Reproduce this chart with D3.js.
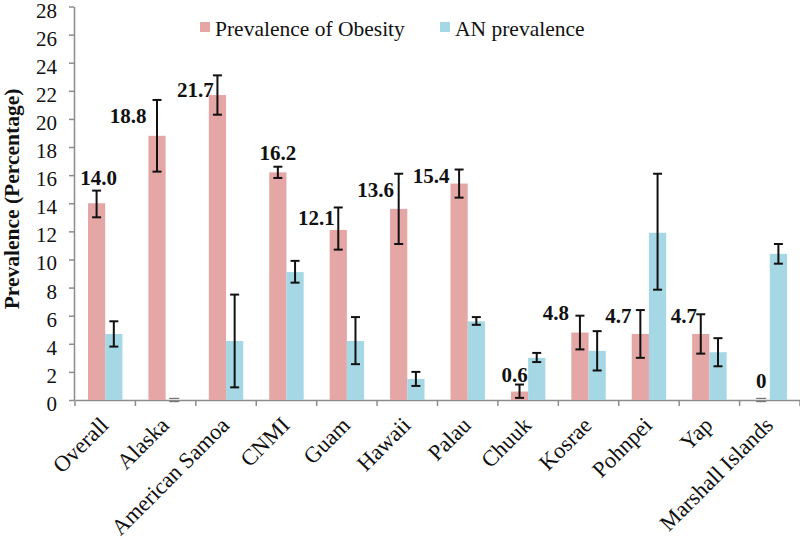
<!DOCTYPE html>
<html><head><meta charset="utf-8">
<script src="https://cdn.jsdelivr.net/npm/d3@7"></script>
<style>body{margin:0;background:#fff}svg{display:block}</style>
</head><body>
<svg id="c" width="800" height="540"></svg>
<script>
const categories = ["Overall","Alaska","American Samoa","CNMI","Guam","Hawaii","Palau","Chuuk","Kosrae","Pohnpei","Yap","Marshall Islands"];
const obesity    = [14.0, 18.8, 21.7, 16.2, 12.1, 13.6, 15.4, 0.6, 4.8, 4.7, 4.7, 0];
const obesityLo  = [13.0, 16.25, 20.3, 15.8, 10.7, 11.1, 14.4, 0.15, 3.6, 3.0, 3.3, 0];
const obesityHi  = [14.9, 21.35, 23.1, 16.6, 13.7, 16.1, 16.4, 1.1, 6.0, 6.4, 6.1, 0];
const an         = [4.7, 0, 4.2, 9.1, 4.2, 1.5, 5.6, 3.0, 3.5, 11.9, 3.4, 10.4];
const anLo       = [3.8, 0, 0.9, 8.35, 2.55, 1.0, 5.35, 2.7, 2.1, 7.85, 2.4, 9.7];
const anHi       = [5.6, 0, 7.5, 9.9, 5.9, 2.0, 5.9, 3.35, 4.9, 16.1, 4.4, 11.1];
const obesityLabels = ["14.0","18.8","21.7","16.2","12.1","13.6","15.4","0.6","4.8","4.7","4.7","0"];
const yTicks = [0,2,4,6,8,10,12,14,16,18,20,22,24,26,28];
const seriesNames = ["Prevalence of Obesity","AN prevalence"];
// label nudges (layout only) relative to bar center / bar top
const labelNudge = [[2,-18],[-29,-13],[-22,2],[0,-12],[-22,-5],[-23,-12],[-28,-1],[-5,-10],[-24,-13],[-22,-11],[-17,-11],[0,-12]];

const colors = ["#E5A6A6","#A6D7E5"];
const FONT = "'Liberation Serif','Times New Roman',serif";
const svg = d3.select("#c");
svg.append("rect").attr("width",800).attr("height",540).attr("fill","#fff");

const x0 = d3.scaleBand().domain(categories).range([75,800]).padding(0);
const x1 = d3.scaleBand().domain([0,1]).range([x0.bandwidth()*0.215, x0.bandwidth()*0.785]);
const y = d3.scaleLinear().domain([0,28]).range([400,6.5]);

// axes
const yAxis = svg.append("g").attr("transform","translate(74,0)")
  .call(d3.axisLeft(y).tickValues(yTicks).tickSize(5).tickSizeOuter(0));
yAxis.select(".domain").attr("stroke","#8c8c8c").attr("stroke-width",1.5);
yAxis.selectAll(".tick line").attr("stroke","#8c8c8c").attr("stroke-width",1.5);
yAxis.selectAll(".tick text").attr("font-family",FONT).attr("font-size",21).attr("fill","#111")
  .attr("x",-17).attr("dy","0.5em");

const xAxis = svg.append("g").attr("transform","translate(0,400)")
  .call(d3.axisBottom(x0).tickSize(0).tickSizeOuter(0));
xAxis.select(".domain").attr("stroke","#8c8c8c").attr("stroke-width",1.5);
xAxis.selectAll(".tick text").remove();
// boundary ticks
const bounds = categories.map(c=>x0(c)).concat([x0.range()[1]]);
svg.append("g").selectAll("line").data(bounds).join("line")
  .attr("x1",d=>d).attr("x2",d=>d).attr("y1",400).attr("y2",406)
  .attr("stroke","#8c8c8c").attr("stroke-width",1.5);
// category labels rotated
svg.append("g").selectAll("text").data(categories).join("text")
  .attr("transform",d=>`translate(${x0(d)+x0.bandwidth()/2-1},${421}) rotate(-45)`)
  .attr("text-anchor","end").attr("dy","0.35em")
  .attr("font-family",FONT).attr("font-size",22.5).attr("fill","#111")
  .text(d=>d);

// bars
const series = [
  {vals:obesity, lo:obesityLo, hi:obesityHi},
  {vals:an, lo:anLo, hi:anHi}
];
series.forEach((s,si)=>{
  const g = svg.append("g");
  g.selectAll("rect").data(categories).join("rect")
    .attr("x",d=>x0(d)+x1(si)).attr("width",x1.bandwidth())
    .attr("y",(d,i)=>y(s.vals[i])).attr("height",(d,i)=>y(0)-y(s.vals[i]))
    .attr("fill",colors[si]);
});
// error bars
series.forEach((s,si)=>{
  const g = svg.append("g");
  categories.forEach((c,i)=>{
    const cx = x0(c)+x1(si)+x1.bandwidth()/2;
    if (s.hi[i]===s.lo[i]) {
      [-1.6,1.6].forEach(o=>g.append("line").attr("x1",cx-5).attr("x2",cx+5)
        .attr("y1",y(s.vals[i])+o).attr("y2",y(s.vals[i])+o)
        .attr("stroke","#777").attr("stroke-width",1.2));
      return;
    }
    g.append("line").attr("x1",cx).attr("x2",cx).attr("y1",y(s.hi[i])).attr("y2",y(s.lo[i]))
      .attr("stroke","#111").attr("stroke-width",2);
    [s.hi[i],s.lo[i]].forEach(v=>g.append("line").attr("x1",cx-4.5).attr("x2",cx+4.5)
      .attr("y1",y(v)).attr("y2",y(v)).attr("stroke","#111").attr("stroke-width",2));
  });
});
// data labels
svg.append("g").selectAll("text").data(categories).join("text")
  .attr("x",(d,i)=>x0(d)+x1(0)+x1.bandwidth()/2+labelNudge[i][0])
  .attr("y",(d,i)=>y(obesity[i])+labelNudge[i][1])
  .attr("text-anchor","middle").attr("font-family",FONT).attr("font-weight","bold")
  .attr("font-size",21).attr("fill","#111").text((d,i)=>obesityLabels[i]);

// y title
svg.append("text").attr("transform","translate(19,199) rotate(-90)")
  .attr("text-anchor","middle").attr("font-family",FONT).attr("font-weight","bold")
  .attr("font-size",21.5).attr("fill","#111").text("Prevalence (Percentage)");

// legend
const legX = [200,440];
seriesNames.forEach((n,i)=>{
  svg.append("rect").attr("x",legX[i]).attr("y",22).attr("width",10).attr("height",10).attr("fill",colors[i]);
  svg.append("text").attr("x",legX[i]+15).attr("y",36).attr("font-family",FONT)
    .attr("font-size",21.5).attr("fill","#111").text(n);
});
</script>
</body></html>
